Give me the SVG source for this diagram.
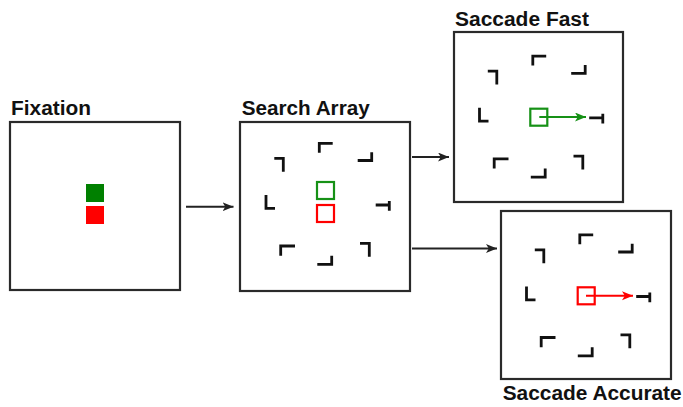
<svg xmlns="http://www.w3.org/2000/svg" xmlns:xlink="http://www.w3.org/1999/xlink" width="683" height="407" viewBox="0 0 683 407">
<style>
.box{fill:#fff;stroke:#2a2a2a;stroke-width:2.2}
.lbl{font-family:"Liberation Sans",Arial,sans-serif;font-weight:bold;font-size:20px;fill:#111}
.it{fill:none;stroke:#111;stroke-width:2.8;stroke-linecap:butt;stroke-linejoin:miter}
.conn{stroke:#222;stroke-width:2;fill:none}
</style>
<defs>
<marker id="ah" markerUnits="userSpaceOnUse" markerWidth="12" markerHeight="10" refX="11" refY="4.5" orient="auto">
<path d="M0,0 L11,4.5 L0,9 L2.8,4.5 z" fill="#222"/>
</marker>
<marker id="ahg" markerUnits="userSpaceOnUse" markerWidth="12" markerHeight="10" refX="11" refY="4.5" orient="auto">
<path d="M0,0 L11,4.5 L0,9 L2.8,4.5 z" fill="#169116"/>
</marker>
<marker id="ahr" markerUnits="userSpaceOnUse" markerWidth="12" markerHeight="10" refX="11" refY="4.5" orient="auto">
<path d="M0,0 L11,4.5 L0,9 L2.8,4.5 z" fill="#ff0000"/>
</marker>
<g id="items" class="it">
<path d="M7.7,-63.2 H-5.7 V-53.8"/>
<path d="M32.7,-46 H46.7 V-54.2"/>
<path d="M-50.7,-48.2 H-41.7 V-34.8"/>
<path d="M-59,-11.5 V1.8 H-50"/>
<path d="M50.7,-1.5 H64.3 M64.3,-5.5 V4.2"/>
<path d="M-30,39.5 H-44.3 V49.2"/>
<path d="M-7.7,57.8 H6.7 V49.2"/>
<path d="M35,36.8 H44.3 V50.2"/>
</g>
</defs>

<g id="fixation">
<text class="lbl" x="11" y="114.5" textLength="80" lengthAdjust="spacingAndGlyphs">Fixation</text>
<rect class="box" x="10" y="122" width="170" height="168"/>
<rect x="86" y="184" width="18" height="18" fill="#008000"/>
<rect x="86" y="206" width="18" height="18" fill="#ff0000"/>
</g>

<g id="search-array">
<text class="lbl" x="241.7" y="115" textLength="128" lengthAdjust="spacingAndGlyphs">Search Array</text>
<rect class="box" x="240" y="122" width="170" height="169"/>
<use xlink:href="#items" transform="translate(325,206.5)"/>
<rect x="317" y="182" width="17" height="17" fill="none" stroke="#169116" stroke-width="2.2"/>
<rect x="317" y="205" width="17" height="17" fill="none" stroke="#ff0000" stroke-width="2.2"/>
</g>

<g id="saccade-fast">
<text class="lbl" x="455" y="25.7" textLength="134" lengthAdjust="spacingAndGlyphs">Saccade Fast</text>
<rect class="box" x="454" y="32" width="169" height="170"/>
<use xlink:href="#items" transform="translate(538.5,119.3)"/>
<rect x="530.3" y="108.7" width="17" height="17" fill="none" stroke="#169116" stroke-width="2.2"/>
<line x1="539.3" y1="117" x2="586" y2="117" stroke="#169116" stroke-width="2" marker-end="url(#ahg)"/>
</g>

<g id="saccade-accurate">
<rect class="box" x="501" y="211" width="170" height="168"/>
<use xlink:href="#items" transform="translate(585.5,298)"/>
<rect x="577.7" y="287.3" width="17" height="17" fill="none" stroke="#ff0000" stroke-width="2.2"/>
<line x1="586" y1="295.7" x2="633" y2="295.7" stroke="#ff0000" stroke-width="2" marker-end="url(#ahr)"/>
<text class="lbl" x="502.7" y="400" textLength="179" lengthAdjust="spacingAndGlyphs">Saccade Accurate</text>
</g>

<g id="connectors">
<line class="conn" x1="186" y1="206.7" x2="233.5" y2="206.7" marker-end="url(#ah)"/>
<line class="conn" x1="412" y1="157" x2="449" y2="157" marker-end="url(#ah)"/>
<line class="conn" x1="412" y1="248.5" x2="497" y2="248.5" marker-end="url(#ah)"/>
</g>
</svg>
